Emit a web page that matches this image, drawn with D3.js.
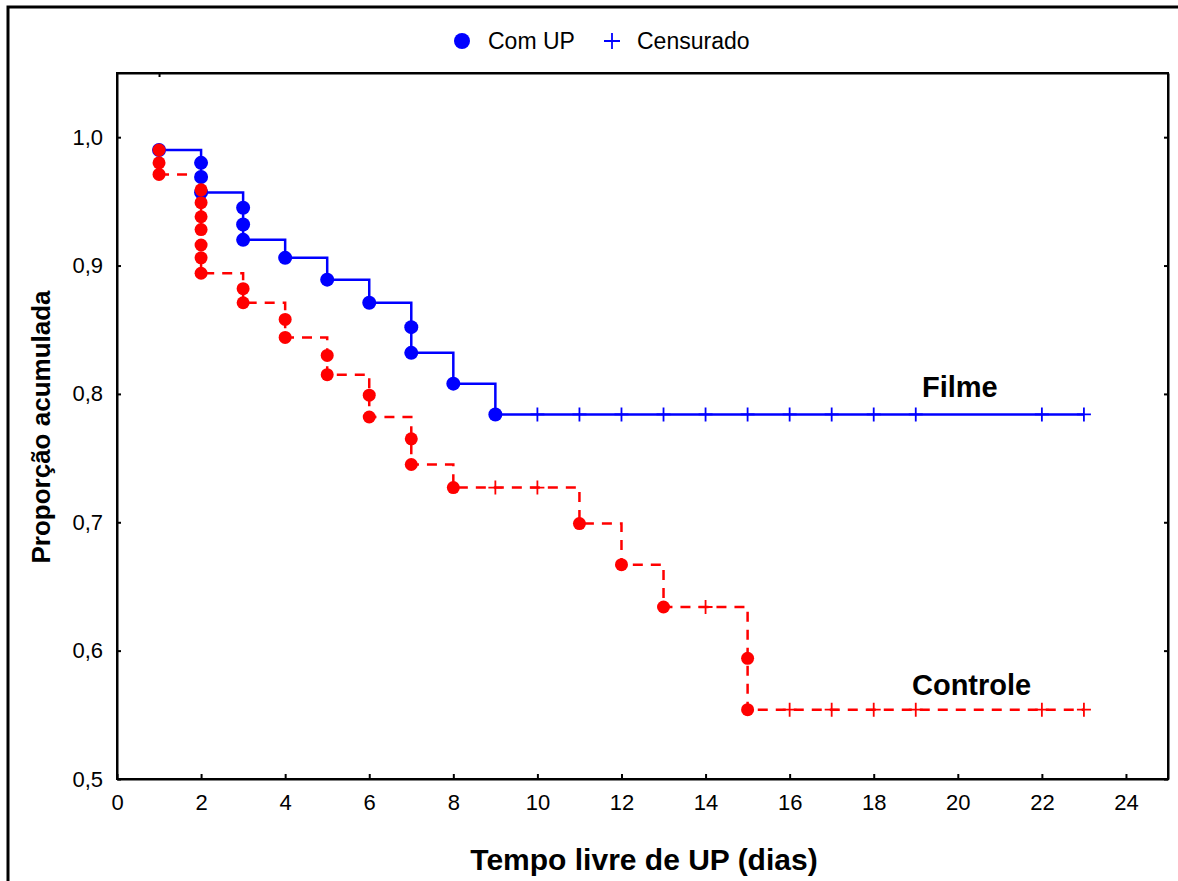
<!DOCTYPE html>
<html>
<head>
<meta charset="utf-8">
<script src="https://cdn.jsdelivr.net/npm/d3@7"></script>
<style>
  body { margin: 0; background: #fff; }
  text { font-family: "Liberation Sans", Arial, sans-serif; }
</style>
</head>
<body>
<svg id="chart" width="1178" height="881"></svg>
<script>
// Filme (blue, solid) - step curve values after each event time
var filmeStepT = [1, 2, 3, 4, 5, 6, 7, 8, 9, 23];
var filmeStepS = [0.990, 0.957, 0.920, 0.906, 0.889, 0.871, 0.832, 0.808, 0.784, 0.784];
// Filme events (Com UP)
var filmeEvtT = [1, 2, 2, 2, 3, 3, 3, 4, 5, 6, 7, 7, 8, 9];
var filmeEvtS = [0.990, 0.980, 0.969, 0.957, 0.945, 0.932, 0.920, 0.906, 0.889, 0.871, 0.852, 0.832, 0.808, 0.784];
// Filme censored
var filmeCensT = [10, 11, 12, 13, 14, 15, 16, 17, 18, 19, 22, 23];
var filmeCensS = [0.784, 0.784, 0.784, 0.784, 0.784, 0.784, 0.784, 0.784, 0.784, 0.784, 0.784, 0.784];

// Controle (red, dashed)
var ctrlStepT = [1, 2, 3, 4, 5, 6, 7, 8, 11, 12, 13, 15, 23];
var ctrlStepS = [0.971, 0.894, 0.871, 0.844, 0.815, 0.782, 0.745, 0.727, 0.699, 0.667, 0.634, 0.554, 0.554];
var ctrlEvtT = [1, 1, 1, 2, 2, 2, 2, 2, 2, 2, 3, 3, 4, 4, 5, 5, 6, 6, 7, 7, 8, 11, 12, 13, 15, 15];
var ctrlEvtS = [0.990, 0.980, 0.971, 0.959, 0.949, 0.938, 0.928, 0.916, 0.906, 0.894, 0.882, 0.871,
                0.858, 0.844, 0.830, 0.815, 0.799, 0.782, 0.765, 0.745, 0.727, 0.699, 0.667, 0.634, 0.594, 0.554];
var ctrlCensT = [9, 10, 14, 16, 17, 18, 19, 22, 23];
var ctrlCensS = [0.727, 0.727, 0.634, 0.554, 0.554, 0.554, 0.554, 0.554, 0.554];

var xTicks = [0, 2, 4, 6, 8, 10, 12, 14, 16, 18, 20, 22, 24];
var yTicks = [0.5, 0.6, 0.7, 0.8, 0.9, 1.0];

var svg = d3.select("#chart");
var pLeft = 117, pRight = 1168, pTop = 73, pBottom = 779;

var x = d3.scaleLinear().domain([0, 25]).range([pLeft, pRight]);
var y = d3.scaleLinear().domain([0.5, 1.05]).range([pBottom, pTop]);

// outer border
svg.append("rect").attr("x", 8).attr("y", 7).attr("width", 1200).attr("height", 900)
   .attr("fill", "none").attr("stroke", "#000").attr("stroke-width", 3);

// plot frame
svg.append("rect").attr("x", pLeft).attr("y", pTop).attr("width", pRight - pLeft).attr("height", pBottom - pTop)
   .attr("fill", "none").attr("stroke", "#000").attr("stroke-width", 2);

// axes (ticks inside)
var fmt = function(d){ return d3.format(".1f")(d).replace(".", ","); };

var xAxis = svg.append("g").attr("transform", "translate(0," + pBottom + ")")
   .call(d3.axisBottom(x).tickValues(xTicks).tickSize(-5).tickPadding(15).tickSizeOuter(0));
var yAxis = svg.append("g").attr("transform", "translate(" + pLeft + ",0)")
   .call(d3.axisLeft(y).tickValues(yTicks).tickFormat(fmt).tickSize(-4).tickPadding(14).tickSizeOuter(0));
svg.append("g").attr("transform", "translate(" + pRight + ",0)")
   .call(d3.axisRight(y).tickValues(yTicks).tickSize(-4).tickFormat("").tickSizeOuter(0));
svg.append("g").attr("transform", "translate(0," + pTop + ")")
   .call(d3.axisTop(x).tickValues([1]).tickSize(-4).tickFormat("").tickSizeOuter(0));

svg.selectAll(".domain").attr("stroke", "#000").attr("stroke-width", 2);
svg.selectAll(".tick line").attr("stroke", "#000").attr("stroke-width", 2);
svg.selectAll(".tick text").attr("font-size", 22).attr("font-family", "Liberation Sans, Arial").attr("fill", "#000");
xAxis.selectAll(".tick text").attr("dy", "0.71em");

// axis titles
svg.append("text").attr("x", 644).attr("y", 870).attr("text-anchor", "middle")
   .attr("font-size", 30).attr("font-weight", "bold").text("Tempo livre de UP (dias)");
svg.append("text").attr("transform", "translate(50,427) rotate(-90)").attr("text-anchor", "middle")
   .attr("font-size", 26).attr("font-weight", "bold").text("Proporção acumulada");

// step lines
function stepPts(ts, ss) { return ts.map(function(t, i){ return [t, ss[i]]; }); }
var line = d3.line().x(function(d){ return x(d[0]); }).y(function(d){ return y(d[1]); }).curve(d3.curveStepAfter);

svg.append("path").datum(stepPts(ctrlStepT, ctrlStepS)).attr("d", line)
   .attr("fill", "none").attr("stroke", "#ff0000").attr("stroke-width", 2.5).attr("stroke-dasharray", "10,8");
svg.append("path").datum(stepPts(filmeStepT, filmeStepS)).attr("d", line)
   .attr("fill", "none").attr("stroke", "#0000ff").attr("stroke-width", 2.5);

// censored marks
function cross(g, ts, ss, color) {
    g.selectAll(null).data(ts).enter().append("path")
     .attr("d", function(d, i){ var cx = x(d), cy = y(ss[i]); return "M" + (cx - 7) + "," + cy + "H" + (cx + 7) + "M" + cx + "," + (cy - 7) + "V" + (cy + 7); })
     .attr("stroke", color).attr("stroke-width", 1.8).attr("fill", "none");
}
cross(svg.append("g"), ctrlCensT, ctrlCensS, "#ff0000");
cross(svg.append("g"), filmeCensT, filmeCensS, "#0000ff");

// event circles
svg.append("g").selectAll("circle").data(filmeEvtT).enter().append("circle")
   .attr("cx", function(d){ return x(d); })
   .attr("cy", function(d, i){ return y(filmeEvtS[i]); })
   .attr("r", 7).attr("fill", "#0000ff");
svg.append("g").selectAll("circle").data(ctrlEvtT).enter().append("circle")
   .attr("cx", function(d){ return x(d); })
   .attr("cy", function(d, i){ return y(ctrlEvtS[i]); })
   .attr("r", 6.5).attr("fill", "#ff0000");

// series labels
svg.append("text").attr("x", 922).attr("y", 397).attr("font-size", 29).attr("font-weight", "bold").text("Filme");
svg.append("text").attr("x", 912).attr("y", 695).attr("font-size", 29).attr("font-weight", "bold").text("Controle");

// legend
svg.append("circle").attr("cx", 462).attr("cy", 41).attr("r", 8).attr("fill", "#0000ff");
svg.append("text").attr("x", 488).attr("y", 49).attr("font-size", 23).text("Com UP");
svg.append("path").attr("d", "M604,41H620M612,33V49").attr("stroke", "#0000ff").attr("stroke-width", 1.8);
svg.append("text").attr("x", 637).attr("y", 49).attr("font-size", 23).text("Censurado");
</script>
</body>
</html>
